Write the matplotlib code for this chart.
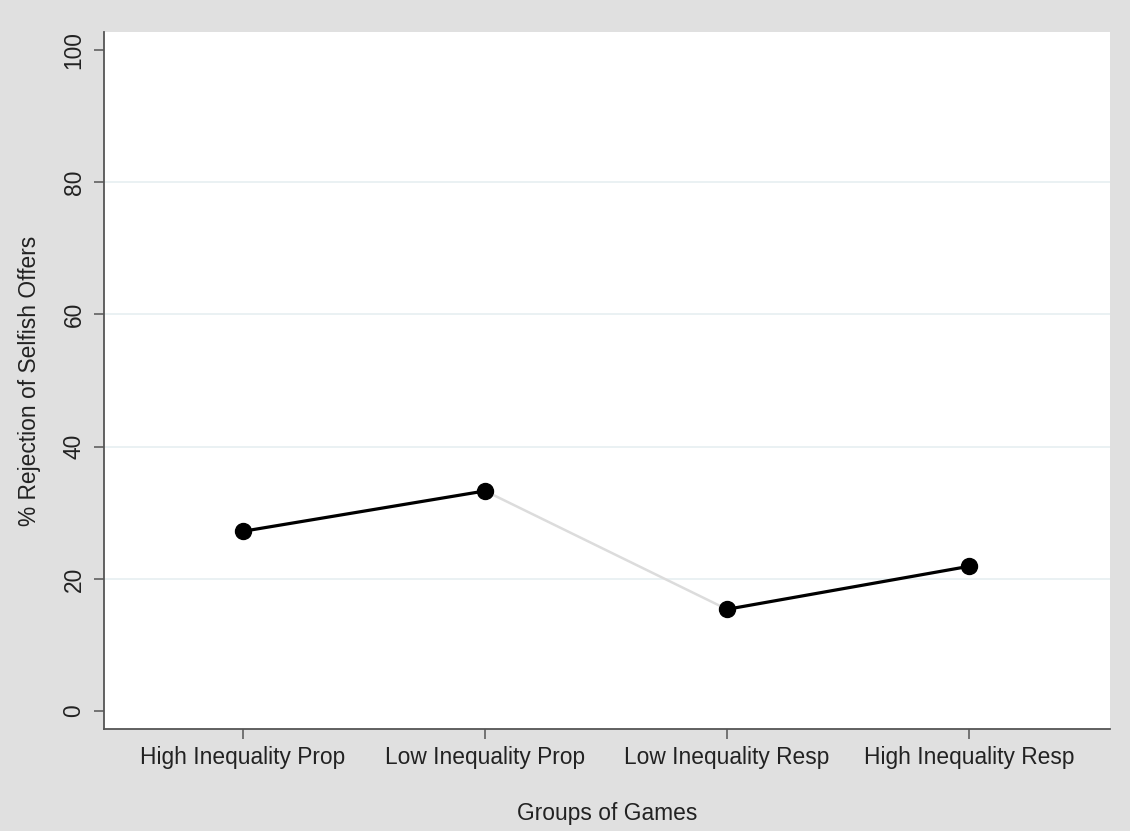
import matplotlib.pyplot as plt

plt.rcParams['font.family'] = ['Liberation Sans', 'DejaVu Sans']

# data
groups = ["High Inequality Prop", "Low Inequality Prop",
          "Low Inequality Resp", "High Inequality Resp"]
rejection = [27.2, 33.3, 15.4, 21.9]
y_ticks = [0, 20, 40, 60, 80, 100]

bg = '#e0e0e0'
fs = 16.4
fig = plt.figure(figsize=(11.3, 8.31), dpi=100, facecolor=bg)
ax = fig.add_axes([104/1130, 1 - 729/831, (1110-104)/1130, (729-32)/831])
ax.set_facecolor('white')

x = list(range(1, len(groups) + 1))

# grid lines
for t in y_ticks[1:-1]:
    ax.axhline(t, color='#e8f0f2', lw=1.3, zorder=0)

# black segments within prop / resp, light gray in between
ax.plot(x[0:2], rejection[0:2], color='black', lw=2.3, zorder=2)
ax.plot(x[1:3], rejection[1:3], color='#dcdcdc', lw=1.8, zorder=1)
ax.plot(x[2:4], rejection[2:4], color='black', lw=2.3, zorder=2)
ax.plot(x, rejection, 'o', color='black', ms=11.5, zorder=3)

ax.set_xlim(0.425, 4.583)
ax.set_ylim(-2.7, 102.7)
ax.set_xticks(x)
ax.set_xticklabels(groups, fontsize=fs, color='#222222')
ax.set_yticks(y_ticks)
ax.set_yticklabels([str(t) for t in y_ticks], fontsize=fs, rotation=90,
                   va='center', color='#222222')

for s in ['top', 'right']:
    ax.spines[s].set_visible(False)
for s in ['left', 'bottom']:
    ax.spines[s].set_color('#555555')
    ax.spines[s].set_linewidth(1.3)
ax.tick_params(axis='both', direction='out', length=7.5, width=1.1,
               color='#555555')
ax.tick_params(axis='x', pad=5)
ax.tick_params(axis='y', pad=5.8)

ax.set_xlabel("Groups of Games", fontsize=fs, color='#222222', labelpad=23.5)
ax.set_ylabel("% Rejection of Selfish Offers", fontsize=fs, color='#222222',
              labelpad=15.5)

fig.savefig('out.png', dpi=100, facecolor=bg)
